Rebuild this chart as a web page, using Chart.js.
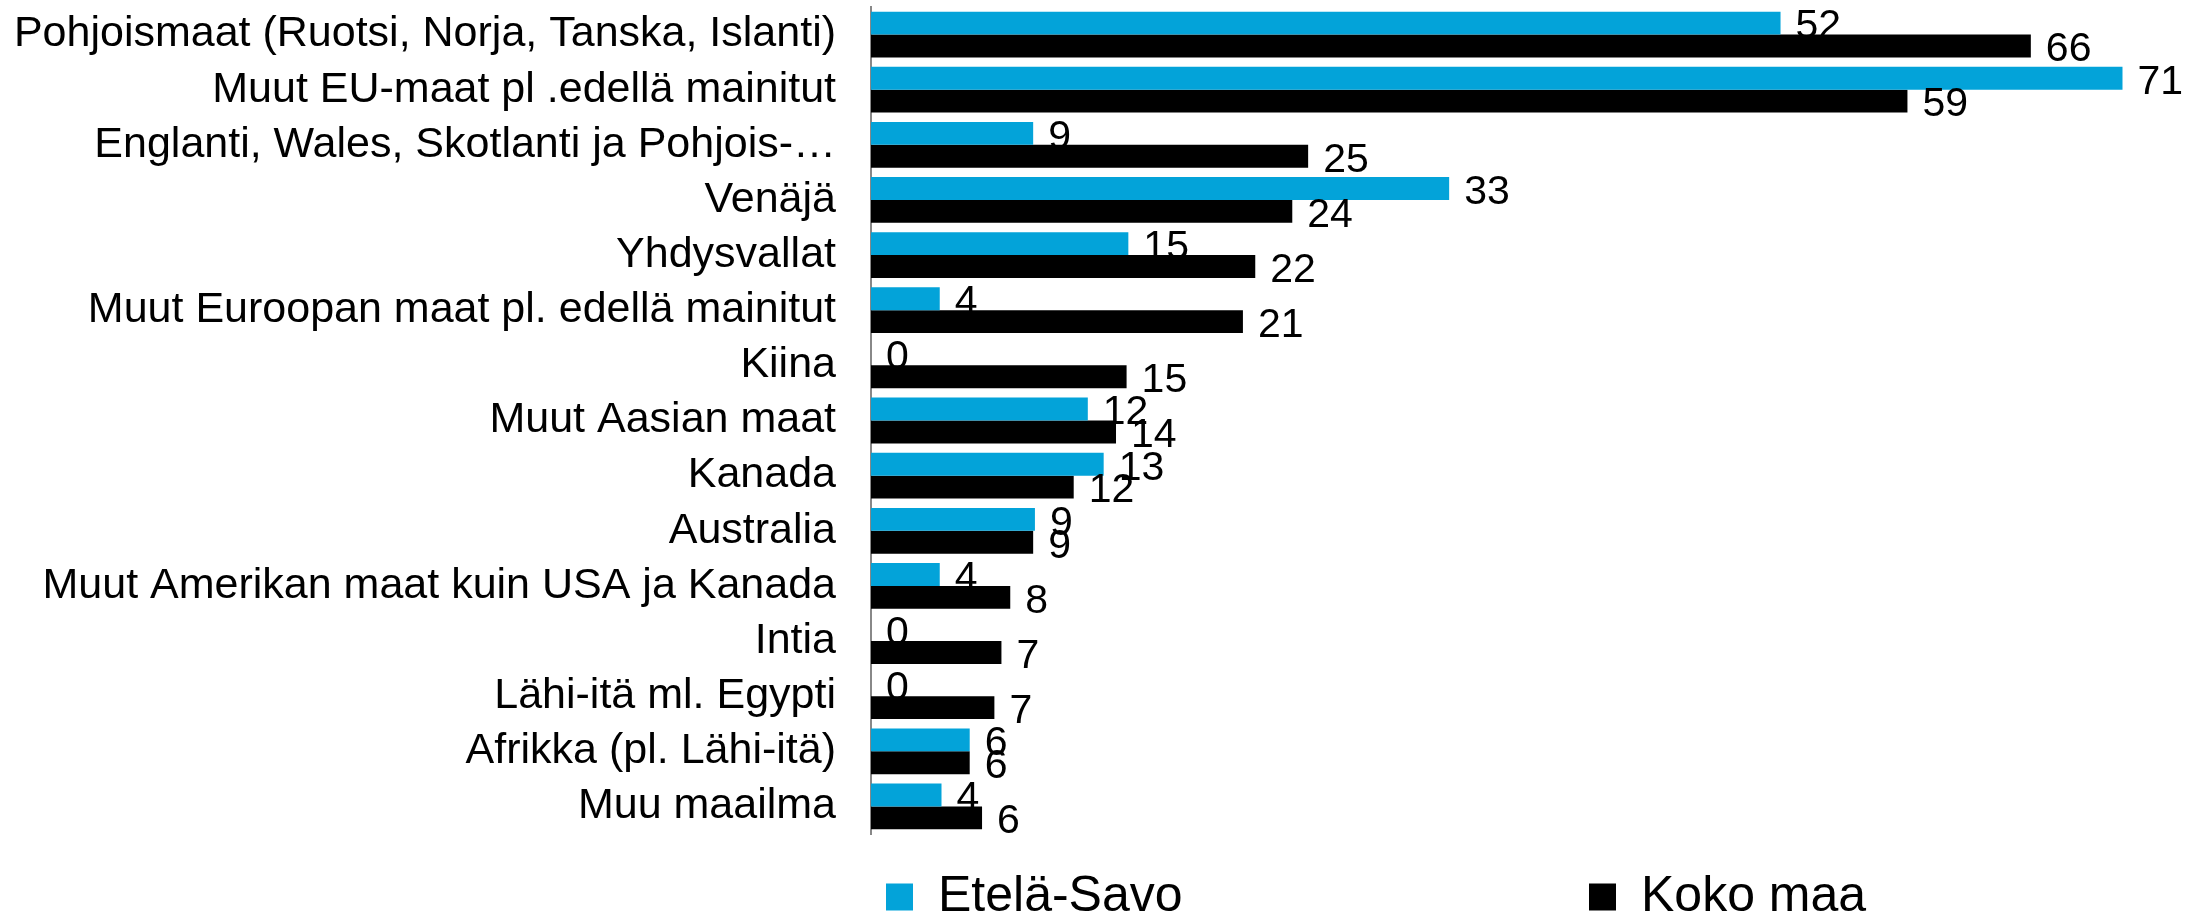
<!DOCTYPE html>
<html>
<head>
<meta charset="utf-8">
<script src="https://cdn.jsdelivr.net/npm/chart.js@4.4.1/dist/chart.umd.min.js"></script>
<style>
  html, body { margin: 0; padding: 0; background: #ffffff; overflow: hidden; }
  #wrap { width: 2197px; height: 918px; position: relative; }
</style>
</head>
<body>
<div id="wrap"><canvas id="c" width="2197" height="918"></canvas></div>
<script>
// ---- data ----
const categories = [
  'Pohjoismaat (Ruotsi, Norja, Tanska, Islanti)',
  'Muut EU-maat pl .edellä mainitut',
  'Englanti, Wales, Skotlanti ja Pohjois-…',
  'Venäjä',
  'Yhdysvallat',
  'Muut Euroopan maat pl. edellä mainitut',
  'Kiina',
  'Muut Aasian maat',
  'Kanada',
  'Australia',
  'Muut Amerikan maat kuin USA ja Kanada',
  'Intia',
  'Lähi-itä ml. Egypti',
  'Afrikka (pl. Lähi-itä)',
  'Muu maailma'
];
const seriesNames = ['Etelä-Savo', 'Koko maa'];
const etelaSavo = [51.6, 71.0, 9.2, 32.8, 14.6, 3.9, 0, 12.3, 13.2, 9.3, 3.9, 0, 0, 5.6, 4.0];
const kokoMaa   = [65.8, 58.8, 24.8, 23.9, 21.8, 21.1, 14.5, 13.9, 11.5, 9.2, 7.9, 7.4, 7.0, 5.6, 6.3];
const xMin = 0;
const xMax = 75;

// ---- style ----
const FAMILY = "'Liberation Sans', Arial, sans-serif";
const BLUE = '#03A3D9';
const BLACK = '#000000';
const LEGEND_FONT = 50;
const LEGEND_BOX = 27;
const LEG_X = 886;      // left of first legend marker
const LEG_X2 = 1589;    // left of second legend marker
const LEG_Y = 872;      // top of legend row

// padding between legend items so the second item lands where it should
const mctx = document.createElement('canvas').getContext('2d');
mctx.font = LEGEND_FONT + 'px ' + FAMILY;
const firstW = LEGEND_BOX + LEGEND_FONT / 2 + mctx.measureText(seriesNames[0]).width;
const LEG_PAD = Math.max(10, LEG_X2 - LEG_X - firstW);

function drawValueLabels(chart, di) {
  const meta = chart.getDatasetMeta(di);
  const data = chart.data.datasets[di].data;
  const ctx = chart.ctx;
  ctx.save();
  ctx.font = '41px ' + FAMILY;
  ctx.fillStyle = '#000';
  ctx.textAlign = 'left';
  ctx.textBaseline = 'middle';
  meta.data.forEach((el, i) => {
    ctx.fillText(String(Math.round(data[i])), el.x + 15, el.y + 4);
  });
  ctx.restore();
}

const valueLabels = {
  id: 'valueLabels',
  beforeDatasetsDraw(chart) { drawValueLabels(chart, 0); },
  afterDatasetsDraw(chart) { drawValueLabels(chart, 1); }
};

const legendPlacer = {
  id: 'legendPlacer',
  afterLayout(chart) {
    const lg = chart.legend;
    if (!lg) return;
    const pad = lg.options.labels.padding;
    lg.left = LEG_X - pad;
    lg.right = 100000;
    lg.top = LEG_Y - pad;
    lg.bottom = 918;
  }
};

new Chart(document.getElementById('c'), {
  type: 'bar',
  data: {
    labels: categories,
    datasets: [
      { label: seriesNames[0], data: etelaSavo, backgroundColor: BLUE, borderWidth: 0,
        categoryPercentage: 0.83, barPercentage: 1.0 },
      { label: seriesNames[1], data: kokoMaa, backgroundColor: BLACK, borderWidth: 0,
        categoryPercentage: 0.83, barPercentage: 1.0 }
    ]
  },
  options: {
    indexAxis: 'y',
    responsive: false,
    animation: false,
    devicePixelRatio: 1,
    layout: { padding: { top: 7, right: 4, left: 0, bottom: 0 } },
    scales: {
      x: { display: false, min: xMin, max: xMax },
      y: {
        grid: { display: false, drawTicks: false },
        border: { display: true, color: '#888888', width: 2 },
        ticks: { color: '#000', font: { family: FAMILY, size: 43 }, padding: 35, autoSkip: false },
        afterFit(scale) {
          scale.width = 871;
          scale.paddingTop = 0;
          scale.paddingBottom = 0;
        }
      }
    },
    plugins: {
      tooltip: { enabled: false },
      legend: {
        position: 'bottom',
        align: 'start',
        maxHeight: 84,
        labels: {
          boxWidth: LEGEND_BOX,
          boxHeight: LEGEND_BOX,
          padding: LEG_PAD,
          color: '#000',
          font: { family: FAMILY, size: LEGEND_FONT },
          sort: (a, b) => a.datasetIndex - b.datasetIndex
        }
      }
    }
  },
  plugins: [valueLabels, legendPlacer]
});
</script>
</body>
</html>
